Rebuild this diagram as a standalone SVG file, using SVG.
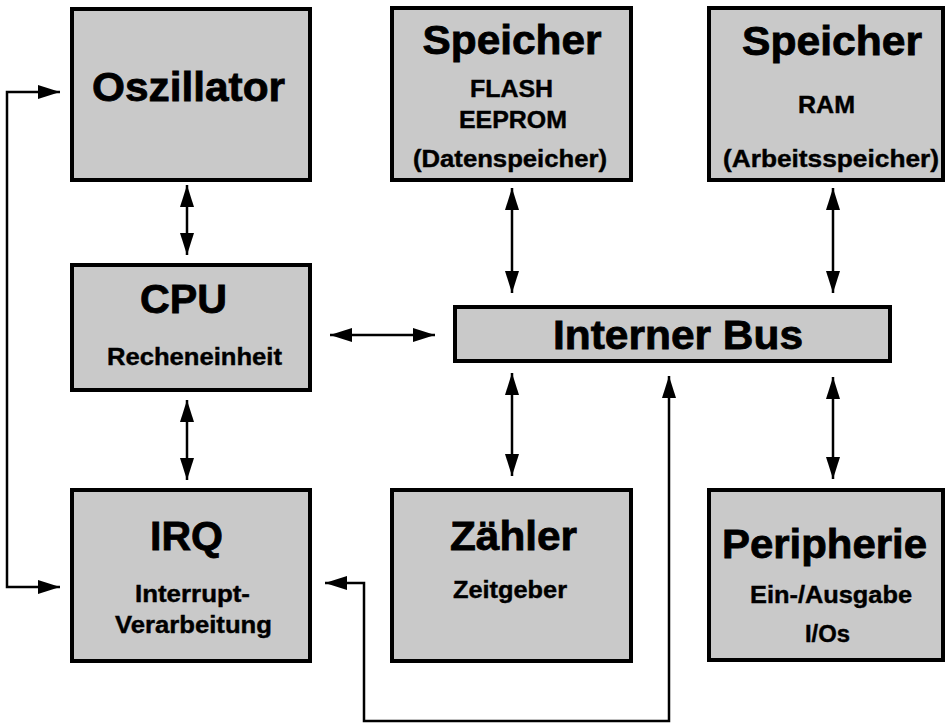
<svg xmlns="http://www.w3.org/2000/svg" width="949" height="723" viewBox="0 0 949 723">
<style>
.box{fill:#c9c9c9;stroke:#000;stroke-width:4}
.t{font-family:"Liberation Sans",Arial,sans-serif;font-weight:bold;fill:#000;text-anchor:middle;stroke:#000}
.big{font-size:41px;stroke-width:0.8}
.sm{font-size:23px;stroke-width:0.4}
.c{fill:none;stroke:#000;stroke-width:2.5}
</style>
<defs>
<marker id="ah" markerUnits="userSpaceOnUse" markerWidth="22" markerHeight="14" refX="22" refY="7" orient="auto-start-reverse" viewBox="0 0 22 14">
<path d="M0,0 L22,7 L0,14 z" fill="#000"/>
</marker>
</defs>
<rect width="949" height="723" fill="#fff"/>
<g id="connectors">
<line class="c" x1="187" y1="185" x2="187" y2="255" marker-start="url(#ah)" marker-end="url(#ah)"/>
<line class="c" x1="187" y1="400" x2="187" y2="480" marker-start="url(#ah)" marker-end="url(#ah)"/>
<line class="c" x1="330" y1="335" x2="435" y2="335" marker-start="url(#ah)" marker-end="url(#ah)"/>
<line class="c" x1="512" y1="188" x2="512" y2="293" marker-start="url(#ah)" marker-end="url(#ah)"/>
<line class="c" x1="833" y1="188" x2="833" y2="293" marker-start="url(#ah)" marker-end="url(#ah)"/>
<line class="c" x1="512" y1="373" x2="512" y2="476" marker-start="url(#ah)" marker-end="url(#ah)"/>
<line class="c" x1="833" y1="377" x2="833" y2="479" marker-start="url(#ah)" marker-end="url(#ah)"/>
<polyline class="c" points="60,92 7,92 7,587 60,587" marker-start="url(#ah)" marker-end="url(#ah)"/>
<polyline class="c" points="669,376 669,721 364,721 364,583 325,583" marker-start="url(#ah)" marker-end="url(#ah)"/>
</g>
<g id="oszillator">
<rect class="box" x="72" y="9" width="238" height="171"/>
<text class="t big" x="188.5" y="101" textLength="193" lengthAdjust="spacingAndGlyphs">Oszillator</text>
</g>
<g id="speicher-flash">
<rect class="box" x="392" y="8" width="239" height="172"/>
<text class="t big" x="512" y="54" textLength="179" lengthAdjust="spacingAndGlyphs">Speicher</text>
<text class="t sm" x="511.5" y="97" textLength="83" lengthAdjust="spacingAndGlyphs">FLASH</text>
<text class="t sm" x="513" y="128" textLength="108" lengthAdjust="spacingAndGlyphs">EEPROM</text>
<text class="t sm" x="510" y="167" textLength="194" lengthAdjust="spacingAndGlyphs">(Datenspeicher)</text>
</g>
<g id="speicher-ram">
<rect class="box" x="709" y="8" width="234" height="172"/>
<text class="t big" x="832" y="55" textLength="180" lengthAdjust="spacingAndGlyphs">Speicher</text>
<text class="t sm" x="826.5" y="113" textLength="57" lengthAdjust="spacingAndGlyphs">RAM</text>
<text class="t sm" x="831" y="167" textLength="216" lengthAdjust="spacingAndGlyphs">(Arbeitsspeicher)</text>
</g>
<g id="cpu">
<rect class="box" x="72" y="265" width="238" height="125"/>
<text class="t big" x="183.5" y="313" textLength="87" lengthAdjust="spacingAndGlyphs">CPU</text>
<text class="t sm" x="194.5" y="365" textLength="175" lengthAdjust="spacingAndGlyphs">Recheneinheit</text>
</g>
<g id="bus">
<rect class="box" x="455" y="307" width="435" height="54"/>
<text class="t big" x="678" y="349" textLength="250" lengthAdjust="spacingAndGlyphs">Interner Bus</text>
</g>
<g id="irq">
<rect class="box" x="72" y="490" width="238" height="171"/>
<text class="t big" x="186.5" y="550" textLength="73" lengthAdjust="spacingAndGlyphs">IRQ</text>
<text class="t sm" x="192.5" y="602" textLength="115" lengthAdjust="spacingAndGlyphs">Interrupt-</text>
<text class="t sm" x="193.5" y="633" textLength="157" lengthAdjust="spacingAndGlyphs">Verarbeitung</text>
</g>
<g id="zaehler">
<rect class="box" x="392" y="490" width="239" height="171"/>
<text class="t big" x="513.5" y="550" textLength="127" lengthAdjust="spacingAndGlyphs">Zähler</text>
<text class="t sm" x="510" y="598" textLength="114" lengthAdjust="spacingAndGlyphs">Zeitgeber</text>
</g>
<g id="peripherie">
<rect class="box" x="709" y="490" width="234" height="170"/>
<text class="t big" x="824.5" y="558" textLength="205" lengthAdjust="spacingAndGlyphs">Peripherie</text>
<text class="t sm" x="831" y="603" textLength="162" lengthAdjust="spacingAndGlyphs">Ein-/Ausgabe</text>
<text class="t sm" x="827.5" y="642" textLength="45" lengthAdjust="spacingAndGlyphs">I/Os</text>
</g>
</svg>
